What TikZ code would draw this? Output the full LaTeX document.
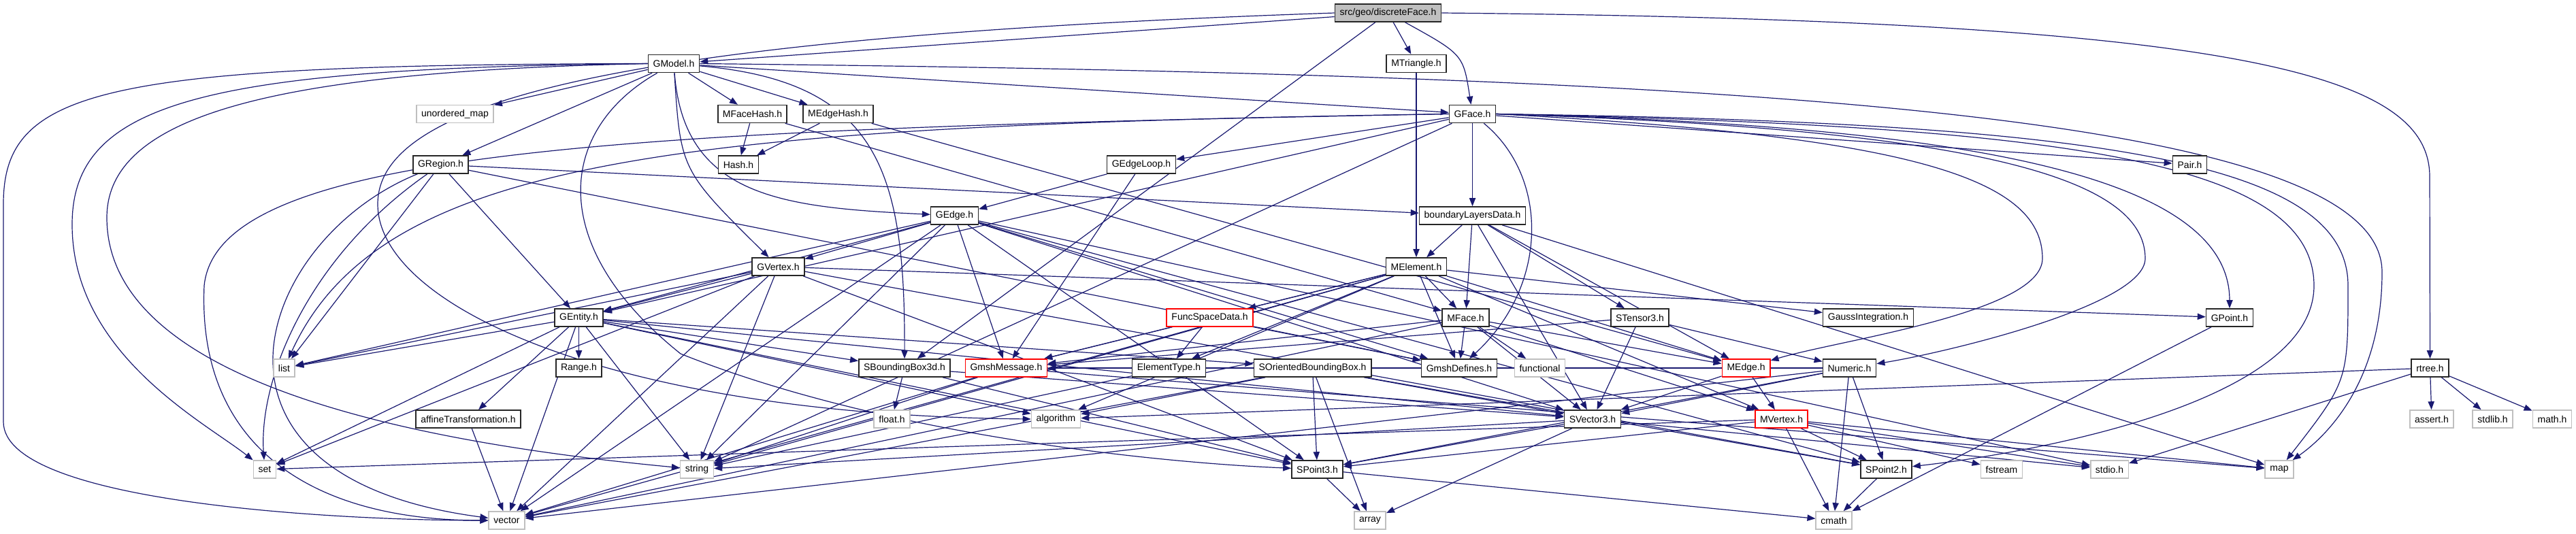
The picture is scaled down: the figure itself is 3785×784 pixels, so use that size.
\documentclass[tikz,border=0pt]{standalone}
\usepackage{fontspec}
\setmainfont{Liberation Sans}
\usetikzlibrary{arrows.meta,backgrounds}
\definecolor{cedge}{HTML}{191970}
\definecolor{csys}{HTML}{BFBFBF}
\definecolor{croot}{HTML}{BFBFBF}
\definecolor{ctrunc}{HTML}{FF0000}
\tikzset{
  >={Triangle[length=6pt,width=4.6pt]},
  hdr/.style={draw=black!85,line width=0.8pt,fill=white,minimum height=13pt,
              inner xsep=3.6pt,inner ysep=0pt,font=\fontsize{7pt}{8pt}\selectfont},
  sys/.style={hdr,draw=csys},
  trunc/.style={hdr,draw=ctrunc},
  root/.style={hdr,fill=croot},
  dep/.style={->,draw=cedge,line width=0.6pt},
}

\begin{document}
\begin{tikzpicture}[x=0.5pt,y=-0.5pt]
\useasboundingbox (0,0) rectangle (3785,784);

% rows 0 to 5
\node[root] (df) at (2039.5,19) {src/geo/discreteFace.h};
\node[hdr] (gmodel) at (990,93.5) {GModel.h};
\node[hdr] (mtri) at (2081,93.5) {MTriangle.h};
\node[sys] (umap) at (668.5,167.5) {unordered\_map};
\node[hdr] (mfh) at (1105.5,167.5) {MFaceHash.h};
\node[hdr] (meh) at (1231.5,167.5) {MEdgeHash.h};
\node[hdr] (gface) at (2163.5,167.5) {GFace.h};
\node[hdr] (gregion) at (647.5,242) {GRegion.h};
\node[hdr] (hash) at (1085,242) {Hash.h};
\node[hdr] (gel) at (1677,242) {GEdgeLoop.h};
\node[hdr] (pair) at (3217.5,242) {Pair.h};
\node[hdr] (gedge) at (1402.5,317) {GEdge.h};
\node[hdr] (bld) at (2163.5,317) {boundaryLayersData.h};
\node[hdr] (gvertex) at (1143.5,392) {GVertex.h};
\node[hdr] (melem) at (2081,392) {MElement.h};

% rows 6 to 10
\node[hdr] (gentity) at (850.5,467) {GEntity.h};
\node[trunc] (fsd) at (1777.5,467) {FuncSpaceData.h};
\node[hdr] (mface) at (2153.5,467) {MFace.h};
\node[hdr] (stens) at (2409.5,467) {STensor3.h};
\node[hdr] (gauss) at (2745,467) {GaussIntegration.h};
\node[hdr] (gpoint) at (3276,467) {GPoint.h};
\node[sys] (list) at (417.5,541) {list};
\node[hdr] (range) at (850.5,541) {Range.h};
\node[hdr] (sbb) at (1329,541) {SBoundingBox3d.h};
\node[trunc] (gmsg) at (1478.5,541) {GmshMessage.h};
\node[hdr] (etype) at (1717.5,541) {ElementType.h};
\node[hdr] (sobb) at (1928.5,541) {SOrientedBoundingBox.h};
\node[hdr] (gdef) at (2144,541) {GmshDefines.h};
\node[sys] (func) at (2262.5,541) {functional};
\node[trunc] (medge) at (2565.5,541) {MEdge.h};
\node[hdr] (numeric) at (2717.5,541) {Numeric.h};
\node[hdr] (rtree) at (3570.5,541) {rtree.h};
\node[hdr] (affine) at (688,616) {affineTransformation.h};
\node[sys] (floath) at (1310.5,616) {float.h};
\node[sys] (algo) at (1551.5,616) {algorithm};
\node[hdr] (svec) at (2340,616) {SVector3.h};
\node[trunc] (mvert) at (2617.5,616) {MVertex.h};
\node[sys] (asserth) at (3573,616) {assert.h};
\node[sys] (stdlibh) at (3662.5,616) {stdlib.h};
\node[sys] (mathh) at (3750,616) {math.h};
\node[sys] (set) at (389,690) {set};
\node[sys] (string) at (1024,690) {string};
\node[hdr] (spt3) at (1935.5,690) {SPoint3.h};
\node[hdr] (spt2) at (2771.5,690) {SPoint2.h};
\node[sys] (fstream) at (2941,690) {fstream};
\node[sys] (stdio) at (3099.5,690) {stdio.h};
\node[sys] (map) at (3349,690) {map};
\node[sys] (vector) at (744.5,765) {vector};
\node[sys] (array) at (2013,765) {array};
\node[sys] (cmath) at (2694.5,765) {cmath};

\begin{scope}[on background layer]
% direct includes
\foreach \a/\b in {df/gmodel,df/mtri,df/sbb,
  gmodel/umap,gmodel/mfh,gmodel/meh,gmodel/gregion,gmodel/gface,
  mfh/hash,meh/hash,mfh/mface,meh/medge,
  gregion/gentity,gregion/list,gregion/bld,gregion/gdef,
  gface/gel,gface/bld,gface/pair,gface/gentity,gface/string,
  gel/gedge,gel/gmsg,
  bld/melem,bld/mface,bld/stens,bld/svec,bld/medge,bld/map,
  gedge/gvertex,gedge/gentity,gedge/list,gedge/string,gedge/vector,gedge/gmsg,
  gedge/gdef,gedge/spt3,gedge/svec,gedge/spt2,gedge/stdio,
  gvertex/gentity,gvertex/gpoint,gvertex/spt2,gvertex/string,gvertex/vector,
  gvertex/spt3,gvertex/list,gvertex/set,
  mtri/melem,
  melem/mvert,melem/medge,melem/mface,melem/fsd,melem/gauss,melem/etype,
  melem/gmsg,melem/gdef,melem/string,melem/vector,melem/algo,
  gentity/list,gentity/set,gentity/vector,gentity/string,gentity/range,
  gentity/affine,gentity/sbb,gentity/sobb,gentity/spt3,gentity/algo,gentity/svec,
  fsd/etype,fsd/gmsg,fsd/gdef,
  mface/mvert,mface/medge,mface/svec,mface/gdef,mface/func,mface/gmsg,mface/vector,
  stens/svec,stens/numeric,stens/gmsg,
  medge/mvert,medge/svec,
  numeric/svec,numeric/spt3,numeric/spt2,numeric/cmath,numeric/gmsg,numeric/vector,
  mvert/spt2,mvert/spt3,mvert/cmath,mvert/stdio,mvert/map,mvert/fstream,mvert/set,
  svec/spt3,svec/string,svec/array,svec/stdio,
  spt3/cmath,spt3/array,spt2/cmath,gpoint/cmath,
  sbb/floath,sbb/spt3,sbb/svec,
  sobb/vector,sobb/array,sobb/svec,sobb/spt3,sobb/algo,sobb/spt2,
  gmsg/string,gmsg/vector,gmsg/map,
  etype/string,affine/vector,
  rtree/asserth,rtree/stdlibh,rtree/mathh,rtree/stdio,rtree/algo}
  \draw[dep] (\a) -- (\b);

% routed round the outside
\draw[dep] (df.west) .. controls (900,55) and (555,150) .. (555,300) .. controls (555,450) and (900,610) .. (algo.west);
\draw[dep] (df) .. controls (2150,80) .. (gface);
\draw[dep] (df.east) .. controls (3300,30) and (3570,110) .. (3570,260) -- (rtree);
\draw[dep] (gmodel) .. controls (1005,290) and (1150,305) .. (gedge);
\draw[dep] (gmodel) .. controls (1000,250) .. (gvertex);
\draw[dep] (gmodel) .. controls (1290,120) and (1330,250) .. (sbb);
\draw[dep] (gmodel.east) .. controls (2600,110) and (3500,170) .. (3500,400) .. controls (3500,560) and (3420,640) .. (map);
\draw[dep] (gmodel.west) .. controls (300,100) and (106,150) .. (106,330) .. controls (106,520) and (300,620) .. (set);
\draw[dep] (gmodel.west) .. controls (150,95) and (5,130) .. (5,300) -- (5,620) .. controls (5,740) and (500,765) .. (vector);
\draw[dep] (gmodel.west) .. controls (400,105) and (157,170) .. (157,320) .. controls (157,560) and (600,650) .. (string);
\draw[dep] (gmodel) .. controls (820,190) and (800,360) .. (1000,520) .. controls (1300,640) and (1700,680) .. (spt3);
\draw[dep] (gregion) .. controls (450,380) and (380,560) .. (set);
\draw[dep] (gregion) .. controls (380,350) and (250,700) .. (vector);
\draw[dep] (gface.east) .. controls (2900,185) and (3276,260) .. (gpoint);
\draw[dep] (gface.east) .. controls (3000,185) and (3400,230) .. (3400,420) .. controls (3400,600) and (2950,670) .. (spt2);
\draw[dep] (gface.east) .. controls (3100,180) and (3450,240) .. (3450,420) .. controls (3450,560) .. (map);
\draw[dep] (gface.east) .. controls (2800,200) and (3001,260) .. (3001,380) .. controls (3001,460) and (2700,500) .. (medge);
\draw[dep] (gface.east) .. controls (2900,190) and (3152,260) .. (3152,380) .. controls (3152,450) and (2850,520) .. (numeric);
\draw[dep] (gface) .. controls (2276,260) and (2276,420) .. (gdef);
\draw[dep] (gface.west) .. controls (1000,185) and (560,230) .. (list);
\draw[dep] (gface.west) .. controls (900,190) and (320,220) .. (300,420) .. controls (290,650) and (450,765) .. (vector);
\end{scope}

\end{tikzpicture}
\end{document}
